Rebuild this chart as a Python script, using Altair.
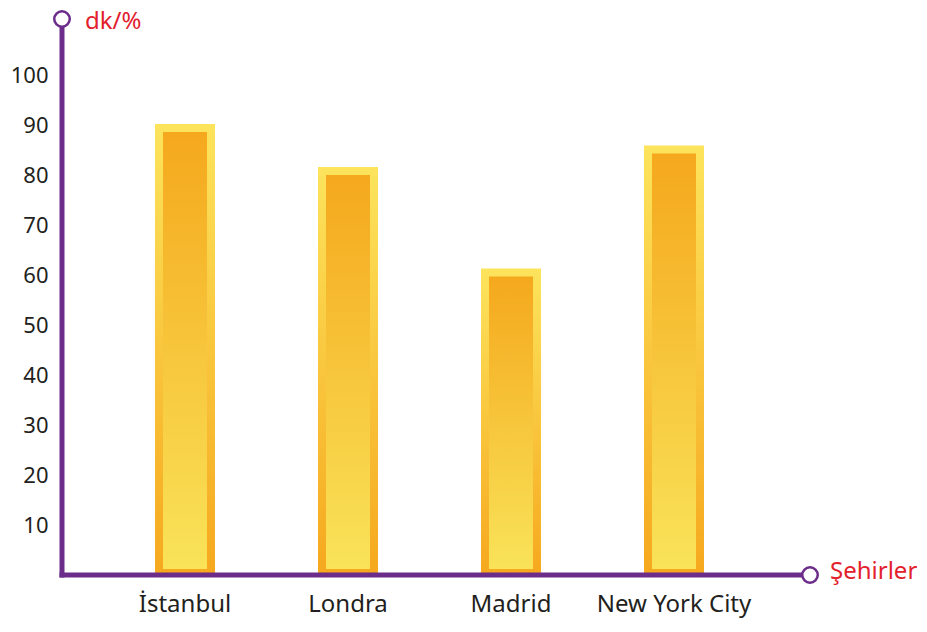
import altair as alt
import pandas as pd

# ---- data ----
cities = ["İstanbul", "Londra", "Madrid", "New York City"]
values = [90.2, 81.6, 61.3, 85.9]
y_ticks = [10, 20, 30, 40, 50, 60, 70, 80, 90, 100]
y_max = 111.2
y_title = "dk/%"
x_title = "Şehirler"

df = pd.DataFrame({"city": cities, "value": values})
one = pd.DataFrame({"a": [0]})

W, H = 748, 556
purple = "#6B2C8A"
red = "#E3202C"
font = "Noto Sans"
label_color = "#231F20"

outer_grad = alt.Gradient(
    gradient="linear", x1=0, y1=0, x2=0, y2=1,
    stops=[alt.GradientStop(color="#FCE45C", offset=0),
           alt.GradientStop(color="#F6A81E", offset=1)],
)
inner_grad = alt.Gradient(
    gradient="linear", x1=0, y1=0, x2=0, y2=1,
    stops=[alt.GradientStop(color="#F5A81D", offset=0),
           alt.GradientStop(color="#F9E359", offset=1)],
)

x_enc = alt.X(
    "city:N", sort=cities,
    scale=alt.Scale(range=[0, 735], paddingInner=0, paddingOuter=0.2546),
    axis=alt.Axis(title=None, domain=False, ticks=False, labelAngle=0,
                  labelFontSize=24, labelFont=font, labelColor=label_color,
                  labelPadding=17),
)
y_scale = alt.Scale(domain=[0, y_max], nice=False, zero=True)
y_axis = alt.Axis(values=y_ticks, title=None, domain=False, ticks=False,
                  grid=False, labelFontSize=22, labelFont=font,
                  labelColor=label_color, labelPadding=14)
y_enc = alt.Y("value:Q", scale=y_scale, axis=y_axis)

base = alt.Chart(df)
outer = base.mark_bar(size=60, color=outer_grad).encode(x=x_enc, y=y_enc)
# inner bar: inset 8px (1.6 units) at the top and 6px (1.2 units) at the bottom
inner = base.transform_calculate(
    top="datum.value - 1.6", bottom="1.2"
).mark_bar(size=44, color=inner_grad).encode(
    x=x_enc,
    y=alt.Y("top:Q", scale=y_scale, axis=y_axis),
    y2="bottom:Q",
)

yaxis_line = alt.Chart(one).mark_rule(color=purple, strokeWidth=5).encode(
    x=alt.value(0), y=alt.value(8), y2=alt.value(H + 2.5))
xaxis_line = alt.Chart(one).mark_rule(color=purple, strokeWidth=5).encode(
    x=alt.value(-2.5), x2=alt.value(W - 8), y=alt.value(H))

top_circle = alt.Chart(one).mark_point(
    shape="circle", size=240, stroke=purple, strokeWidth=2.5,
    fill="white", fillOpacity=1, opacity=1).encode(
    x=alt.value(0), y=alt.value(0))
right_circle = alt.Chart(one).mark_point(
    shape="circle", size=240, stroke=purple, strokeWidth=2.5,
    fill="white", fillOpacity=1, opacity=1).encode(
    x=alt.value(W), y=alt.value(H))

ytitle = alt.Chart(one).mark_text(
    text=y_title, align="left", baseline="top", fontSize=24,
    font=font, color=red).encode(x=alt.value(23), y=alt.value(-9))
xtitle = alt.Chart(one).mark_text(
    text=x_title, align="left", baseline="middle", fontSize=24,
    font=font, color=red).encode(x=alt.value(768), y=alt.value(H - 3))

chart = alt.layer(
    outer, inner, yaxis_line, xaxis_line, top_circle, right_circle,
    ytitle, xtitle,
).properties(
    width=W, height=H,
    background="white",
    autosize=alt.AutoSizeParams(type="none"),
    padding={"left": 54, "top": 11, "right": 107, "bottom": 47},
).configure_view(strokeWidth=0)

chart.save("out.html", embed_options={"renderer": "svg", "actions": False})
